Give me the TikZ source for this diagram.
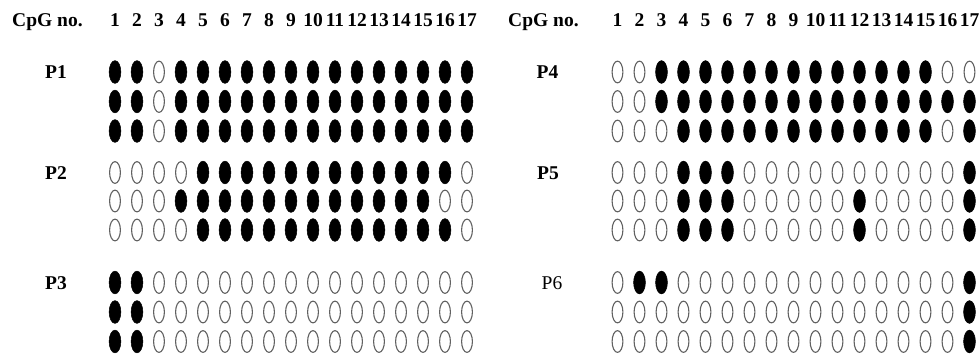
\documentclass[tikz,border=0pt]{standalone}
\usepackage{fontspec}
\setmainfont{Liberation Serif}
\usetikzlibrary{shapes.geometric}
\newcommand\cpgrow[4]{%
  \foreach \v [count=\c] in {#4} {%
    \ifnum\v=1
      \node[fullcpg] (#1-\c) at ({#2+22*(\c-1)},#3) {};
    \else
      \node[opencpg] (#1-\c) at ({#2+22*(\c-1)},#3) {};
    \fi
  }%
}
\begin{document}
\begin{tikzpicture}[x=1pt,y=-1pt,
  fullcpg/.style={ellipse,draw=black,fill=black,line width=0.5pt,minimum width=11.8pt,minimum height=22.8pt,inner sep=0pt},
  opencpg/.style={ellipse,draw=black!62,fill=white,line width=1.1pt,minimum width=10.8pt,minimum height=21.8pt,inner sep=0pt},
  hdr/.style={font=\fontsize{19.5}{20}\selectfont\bfseries,anchor=base,inner sep=0pt},
  lbl/.style={font=\fontsize{19.5}{20}\selectfont\bfseries,anchor=base,inner sep=0pt},
  lblr/.style={font=\fontsize{19.5}{20}\selectfont,anchor=base,inner sep=0pt}]
\useasboundingbox (0,0) rectangle (980,356);
% headers
\node[hdr,anchor=base west] (cpgL) at (12,27) {CpG no.};
\node[hdr,anchor=base west] (cpgR) at (508,27) {CpG no.};
\foreach \k in {1,...,17} {
  \node[hdr] (hL-\k) at ({115+22*(\k-1)},27) {\k};
  \node[hdr] (hR-\k) at ({617.5+22*(\k-1)},27) {\k};
}
% labels
\node[lbl] (P1) at (56,78.5) {P1};
\node[lbl] (P2) at (56,179) {P2};
\node[lbl] (P3) at (56,289) {P3};
\node[lbl] (P4) at (547.5,78.5) {P4};
\node[lbl] (P5) at (548,179) {P5};
\node[lblr] (P6) at (552,289) {P6};
% left panel
\cpgrow{p1a}{115}{72}{1,1,0,1,1,1,1,1,1,1,1,1,1,1,1,1,1}
\cpgrow{p1b}{115}{101.5}{1,1,0,1,1,1,1,1,1,1,1,1,1,1,1,1,1}
\cpgrow{p1c}{115}{131}{1,1,0,1,1,1,1,1,1,1,1,1,1,1,1,1,1}
\cpgrow{p2a}{115}{172.5}{0,0,0,0,1,1,1,1,1,1,1,1,1,1,1,1,0}
\cpgrow{p2b}{115}{201}{0,0,0,1,1,1,1,1,1,1,1,1,1,1,1,0,0}
\cpgrow{p2c}{115}{230}{0,0,0,0,1,1,1,1,1,1,1,1,1,1,1,1,0}
\cpgrow{p3a}{115}{282.5}{1,1,0,0,0,0,0,0,0,0,0,0,0,0,0,0,0}
\cpgrow{p3b}{115}{312}{1,1,0,0,0,0,0,0,0,0,0,0,0,0,0,0,0}
\cpgrow{p3c}{115}{341.5}{1,1,0,0,0,0,0,0,0,0,0,0,0,0,0,0,0}
% right panel
\cpgrow{p4a}{617.5}{72}{0,0,1,1,1,1,1,1,1,1,1,1,1,1,1,0,0}
\cpgrow{p4b}{617.5}{101.5}{0,0,1,1,1,1,1,1,1,1,1,1,1,1,1,1,1}
\cpgrow{p4c}{617.5}{131}{0,0,0,1,1,1,1,1,1,1,1,1,1,1,1,0,1}
\cpgrow{p5a}{617.5}{172.5}{0,0,0,1,1,1,0,0,0,0,0,0,0,0,0,0,1}
\cpgrow{p5b}{617.5}{201}{0,0,0,1,1,1,0,0,0,0,0,1,0,0,0,0,1}
\cpgrow{p5c}{617.5}{230}{0,0,0,1,1,1,0,0,0,0,0,1,0,0,0,0,1}
\cpgrow{p6a}{617.5}{282.5}{0,1,1,0,0,0,0,0,0,0,0,0,0,0,0,0,1}
\cpgrow{p6b}{617.5}{312}{0,0,0,0,0,0,0,0,0,0,0,0,0,0,0,0,1}
\cpgrow{p6c}{617.5}{341.5}{0,0,0,0,0,0,0,0,0,0,0,0,0,0,0,0,1}
\end{tikzpicture}
\end{document}
